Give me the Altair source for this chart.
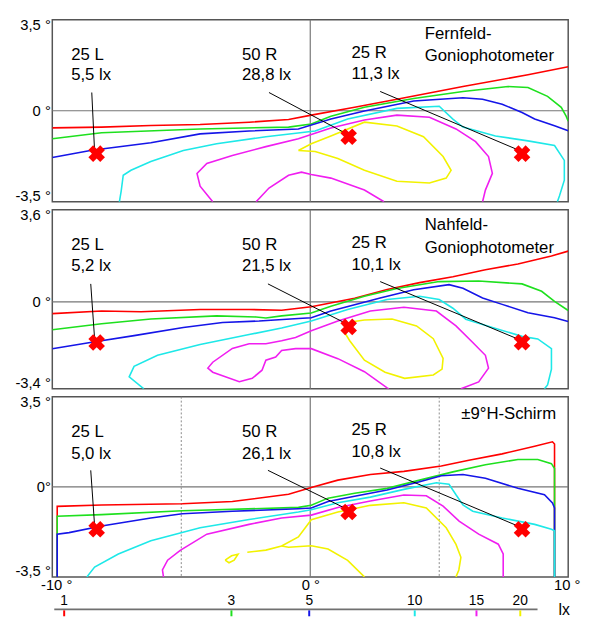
import altair as alt
import pandas as pd

FONT = "Liberation Sans, Arial, Helvetica, sans-serif"

# ---------------- isolux levels (lx) ----------------
levels = [1, 3, 5, 10, 15, 20]
level_colors = ["#ff0000", "#1ee01e", "#1515e8", "#1ee8e8", "#f01ef0", "#f2f200"]

# ---------------- Panel 1: Fernfeld-Goniophotometer (h deg, v deg) ----------------
p1_red = [(-10, -0.66), (-8.09, -0.63), (-6.18, -0.57), (-4.27, -0.53), (-2.37, -0.44), (-0.84, -0.34),
          (0.04, -0.17), (1.72, 0.13), (3.36, 0.44), (5.92, 0.93), (8.44, 1.38), (10, 1.69)]
p1_green = [(-10, -1.08), (-8.09, -0.85), (-4.27, -0.70), (-0.84, -0.63), (0.04, -0.51), (0.80, -0.21),
            (2.10, 0.13), (4.01, 0.47), (5.92, 0.74), (7.67, 0.93), (8.44, 0.89), (9.20, 0.55), (9.73, 0.13),
            (9.92, -0.21), (10, -0.40)]
p1_blue = [(-10, -1.80), (-8.47, -1.52), (-6.18, -1.23), (-4.27, -0.89), (-2.37, -0.78), (-0.46, -0.70),
           (0.80, -0.32), (2.10, -0.01), (4.01, 0.37), (5.92, 0.50), (6.68, 0.44), (7.44, 0.25), (8.21, -0.07),
           (8.70, -0.32), (9.47, -0.58), (10, -0.77)]
p1_cyan = [(-7.40, -3.5), (-7.33, -3.09), (-7.25, -2.48), (-6.95, -2.29), (-6.18, -1.95), (-4.92, -1.53),
           (-3.63, -1.27), (-1.72, -1.00), (0.19, -0.78), (1.45, -0.32), (3.36, 0.09), (5.0, 0.17), (5.53, -0.32),
           (5.92, -0.63), (7.18, -0.97), (8.44, -1.16), (9.47, -1.34), (9.85, -1.91), (9.85, -2.67), (9.66, -3.28),
           (9.58, -3.5)]
p1_mag_a = [(-3.78, -3.5), (-4.27, -2.90), (-4.39, -2.41), (-4.01, -2.03), (-3.02, -1.72), (-1.72, -1.38),
            (-0.46, -1.08), (0.80, -0.66), (2.10, -0.36), (3.36, -0.17), (4.62, -0.25), (5.65, -0.70),
            (6.41, -1.19), (6.91, -1.76), (7.06, -2.41), (6.79, -3.05), (6.68, -3.5)]
p1_mag_b = [(-2.10, -3.5), (-1.60, -2.97), (-0.84, -2.48), (-0.34, -2.36), (0.04, -2.45), (0.80, -2.59),
            (2.10, -3.05), (2.86, -3.5)]
p1_yel = [(-0.46, -1.53), (0.04, -1.27), (0.80, -0.97), (2.10, -0.44), (3.36, -0.59), (4.39, -1.00),
          (5.15, -1.76), (5.46, -2.29), (5.27, -2.59), (4.62, -2.78), (3.36, -2.71), (2.10, -2.29),
          (1.07, -1.84), (0.19, -1.57), (-0.46, -1.53)]
p1_contours = [(1, p1_red), (3, p1_green), (5, p1_blue), (10, p1_cyan), (15, p1_mag_a), (15, p1_mag_b),
               (20, p1_yel)]
p1_points = [(-8.28, -1.65), (1.49, -1.00), (8.21, -1.65)]
p1_leaders = [(-8.47, 0.70, -8.36, -1.57), (-1.60, 0.70, 1.49, -0.93), (2.71, 0.74, 8.21, -1.57)]
p1_texts = [("25 L", -9.27, 2.06, "left"), ("5,5 lx", -9.27, 1.31, "left"),
            ("50 R", -2.65, 2.06, "left"), ("28,8 lx", -2.65, 1.31, "left"),
            ("25 R", 1.60, 2.14, "left"), ("11,3 lx", 1.60, 1.34, "left"),
            ("Fernfeld-", 4.44, 2.86, "left"), ("Goniophotometer", 4.44, 2.03, "left")]

# ---------------- Panel 2: Nahfeld-Goniophotometer ----------------
p2_red = [(-10, -0.46), (-8.09, -0.36), (-6.56, -0.39), (-4.27, -0.30), (-2.37, -0.30), (-1.11, -0.33),
          (0.04, -0.19), (1.72, 0.14), (2.98, 0.48), (4.24, 0.75), (5.53, 0.98), (6.79, 1.25), (8.05, 1.48),
          (9.35, 1.79), (10, 1.98)]
p2_green = [(-10, -1.09), (-8.09, -0.86), (-6.18, -0.67), (-3.63, -0.55), (-2.10, -0.59), (-1.72, -0.63),
            (-1.11, -0.55), (0.04, -0.44), (0.80, -0.17), (2.10, 0.22), (3.36, 0.52), (5.0, 0.79), (6.53, 0.81),
            (8.21, 0.70), (8.97, 0.41), (9.47, 0.02), (10, -0.34)]
p2_blue = [(-10, -1.83), (-8.47, -1.58), (-6.83, -1.32), (-4.92, -1.00), (-3.40, -0.81), (-1.98, -0.75),
           (-0.46, -0.65), (0.04, -0.62), (0.80, -0.36), (2.71, 0.15), (4.01, 0.47), (5.38, 0.67), (5.92, 0.53),
           (6.68, 0.15), (7.44, -0.10), (8.44, -0.43), (9.47, -0.62), (10, -0.77)]
p2_cyan = [(-6.45, -3.4), (-7.02, -2.93), (-6.83, -2.52), (-5.92, -2.09), (-4.27, -1.67), (-2.37, -1.28),
           (-1.11, -1.02), (0.04, -0.75), (1.45, -0.30), (2.98, 0.09), (4.24, 0.22), (5.0, 0.09), (5.53, -0.25),
           (6.03, -0.68), (7.06, -1.0), (8.21, -1.35), (8.82, -1.45), (9.35, -1.83), (9.35, -2.63),
           (9.20, -3.25), (9.08, -3.4)]
p2_mag = [(5.84, -3.4), (6.53, -3.13), (6.91, -2.59), (6.79, -2.09), (6.30, -1.59), (5.65, -0.94),
          (4.89, -0.36), (3.63, -0.21), (2.33, -0.36), (1.07, -0.75), (0.04, -1.13), (-0.57, -1.39),
          (-1.11, -1.52), (-1.72, -1.64), (-2.37, -1.64), (-3.02, -1.82), (-3.78, -2.36), (-3.97, -2.59),
          (-3.78, -2.75), (-2.75, -3.12), (-2.25, -2.99), (-1.87, -2.67), (-1.72, -2.28), (-1.34, -2.16),
          (-1.11, -1.90), (-0.57, -1.83), (0.04, -1.83), (1.07, -2.22), (2.10, -2.73), (2.98, -3.36),
          (3.05, -3.4)]
p2_yel = [(1.34, -1.21), (1.64, -0.78), (2.10, -0.71), (3.17, -0.67), (4.12, -0.94), (4.77, -1.44),
          (5.15, -2.21), (5.11, -2.63), (4.77, -2.86), (3.66, -2.99), (2.90, -2.75), (2.10, -2.28),
          (1.53, -1.52), (1.34, -1.21)]
p2_contours = [(1, p2_red), (3, p2_green), (5, p2_blue), (10, p2_cyan), (15, p2_mag), (20, p2_yel)]
p2_points = [(-8.28, -1.59), (1.49, -0.98), (8.21, -1.58)]
p2_leaders = [(-8.51, 0.70, -8.36, -1.44), (-1.64, 0.70, 1.49, -0.90), (2.71, 0.79, 8.21, -1.52)]
p2_texts = [("25 L", -9.27, 2.14, "left"), ("5,2 lx", -9.27, 1.33, "left"),
            ("50 R", -2.65, 2.14, "left"), ("21,5 lx", -2.65, 1.33, "left"),
            ("25 R", 1.60, 2.22, "left"), ("10,1 lx", 1.60, 1.37, "left"),
            ("Nahfeld-", 4.44, 2.91, "left"), ("Goniophotometer", 4.44, 2.02, "left")]

# ---------------- Panel 3: +-9 deg H-Schirm ----------------
p3_red = [(-9.81, -3.5), (-9.81, -0.76), (-8.09, -0.71), (-4.96, -0.66), (-3.02, -0.57), (-0.84, -0.29),
          (0.04, -0.03), (1.07, 0.26), (2.33, 0.48), (3.63, 0.60), (5.08, 0.81), (6.15, 1.03), (7.44, 1.28),
          (8.70, 1.58), (9.39, 1.75), (9.47, 1.66), (9.47, -3.5)]
p3_green = [(-9.81, -3.5), (-9.81, -1.14), (-8.09, -1.08), (-4.96, -0.93), (-0.46, -0.80), (0.04, -0.72),
            (0.69, -0.44), (1.72, -0.25), (2.98, -0.06), (4.24, 0.26), (5.53, 0.58), (6.79, 0.86),
            (8.05, 1.06), (8.82, 1.06), (9.35, 0.90), (9.47, 0.71), (9.47, -3.5)]
p3_blue = [(-9.81, -3.5), (-9.81, -1.84), (-9.35, -1.78), (-8.09, -1.52), (-6.18, -1.21), (-4.96, -1.05),
           (-3.02, -0.95), (-0.46, -0.85), (0.04, -0.82), (0.69, -0.57), (1.72, -0.37), (2.98, -0.12),
           (4.24, 0.20), (5.08, 0.43), (5.92, 0.48), (6.79, 0.33), (8.05, -0.06), (9.08, -0.31),
           (9.39, -0.63), (9.47, -0.82), (9.47, -3.5)]
p3_cyan = [(-8.66, -3.5), (-8.36, -3.12), (-7.44, -2.61), (-6.18, -2.10), (-4.27, -1.59), (-2.37, -1.27),
           (-0.46, -0.98), (0.04, -0.89), (1.07, -0.62), (2.33, -0.40), (3.63, -0.10), (4.89, 0.16),
           (5.38, 0.10), (5.65, -0.31), (5.92, -0.70), (6.30, -0.95), (7.44, -1.21), (8.70, -1.46),
           (9.35, -1.65), (9.47, -1.71), (9.47, -3.5)]
p3_mag = [(-5.69, -3.5), (-5.73, -3.23), (-5.53, -2.85), (-5.04, -2.47), (-4.01, -1.84), (-2.37, -1.46),
          (-1.11, -1.21), (0.04, -1.10), (1.07, -0.80), (2.33, -0.55), (3.63, -0.32), (4.50, -0.35),
          (5.15, -0.75), (5.77, -1.33), (6.53, -1.84), (7.29, -2.23), (7.48, -2.61), (7.48, -3.5)]
p3_yel_a = [(-2.44, -2.54), (-1.72, -2.46), (-1.11, -2.30), (-0.46, -1.95), (-0.20, -1.60), (0.04, -1.28),
            (1.07, -0.98), (2.33, -0.72), (3.63, -0.62), (4.50, -0.82), (5.27, -1.59), (5.65, -2.24),
            (5.84, -2.74), (5.76, -3.23), (5.65, -3.5)]
p3_yel_b = [(-1.11, -2.30), (-0.84, -2.35), (0.04, -2.29), (0.69, -2.42), (1.45, -2.86), (2.10, -3.5)]
p3_yel_c = [(-3.30, -2.85), (-3.15, -2.95), (-2.95, -2.85), (-2.80, -2.62), (-3.05, -2.68), (-3.30, -2.85)]
p3_contours = [(1, p3_red), (3, p3_green), (5, p3_blue), (10, p3_cyan), (15, p3_mag), (20, p3_yel_a),
               (20, p3_yel_b), (20, p3_yel_c)]
p3_points = [(-8.28, -1.65), (1.49, -0.98), (8.21, -1.65)]
p3_leaders = [(-8.51, 0.64, -8.36, -1.51), (-1.64, 0.64, 1.49, -0.90), (2.71, 0.73, 8.21, -1.59)]
p3_texts = [("25 L", -9.27, 2.05, "left"), ("5,0 lx", -9.27, 1.21, "left"),
            ("50 R", -2.65, 2.05, "left"), ("26,1 lx", -2.65, 1.21, "left"),
            ("25 R", 1.60, 2.12, "left"), ("10,8 lx", 1.60, 1.28, "left"),
            ("\u00b19\u00b0H-Schirm", 9.53, 2.74, "right")]
p3_dotted = [-5, 5]

x_ticks = [-10, 0, 10]
x_labels = ["-10 \u00b0", "0 \u00b0", "10 \u00b0"]

COLOR_OF = dict(zip(levels, level_colors))


def label_expr(vals, labs):
    expr = "''"
    for v, l in zip(vals, labs):
        expr = f"datum.value == {v} ? '{l}' : ({expr})"
    return expr


def panel(contours, points, leaders, texts, ydom, yticks, ylabels, height, show_x, dotted):
    xs = alt.Scale(domain=[-10, 10], nice=False, zero=False)
    ys = alt.Scale(domain=ydom, nice=False, zero=False)
    yaxis = alt.Axis(values=yticks, labelExpr=label_expr(yticks, ylabels), ticks=False, domain=False,
                     grid=False, title=None, labelPadding=2, labelFontSize=15, labelFont=FONT,
                     labelColor="black", labelFlush=True, labelFlushOffset=2)
    if show_x:
        xaxis = alt.Axis(values=x_ticks, labelExpr=label_expr(x_ticks, x_labels), ticks=False, domain=False,
                         grid=False, title=None, labelPadding=1, labelFontSize=15, labelFont=FONT,
                         labelColor="black", labelFlush=True, labelFlushOffset=12)
    else:
        xaxis = None

    def X(f):
        return alt.X(f, type="quantitative", scale=xs, axis=xaxis)

    def Y(f):
        return alt.Y(f, type="quantitative", scale=ys, axis=yaxis)

    layers = []
    layers.append(alt.Chart(pd.DataFrame({"v": [0.0]})).mark_rule(color="#767676", strokeWidth=1.2)
                  .encode(y=Y("v")))
    layers.append(alt.Chart(pd.DataFrame({"h": [0.0]})).mark_rule(color="#767676", strokeWidth=1.2)
                  .encode(x=X("h")))
    if dotted:
        layers.append(alt.Chart(pd.DataFrame({"h": dotted})).mark_rule(color="#8a8a8a", strokeWidth=1,
                                                                      strokeDash=[2, 2])
                      .encode(x=X("h")))
    for lvl in levels:
        rows = []
        for k, (lv, pts) in enumerate(contours):
            if lv != lvl:
                continue
            for j, (h, v) in enumerate(pts):
                rows.append({"seg": k, "ord": j, "h": h, "v": v})
        if not rows:
            continue
        layers.append(alt.Chart(pd.DataFrame(rows)).mark_line(color=COLOR_OF[lvl], strokeWidth=1.6, clip=True)
                      .encode(x=X("h"), y=Y("v"), detail="seg:N", order="ord:Q"))
    ld = pd.DataFrame(leaders, columns=["h", "v", "h2", "v2"])
    layers.append(alt.Chart(ld).mark_rule(color="black", strokeWidth=1)
                  .encode(x=X("h"), y=Y("v"), x2="h2:Q", y2="v2:Q"))
    pdf = pd.DataFrame(points, columns=["h", "v"])
    layers.append(alt.Chart(pdf).mark_point(shape="cross", angle=45, filled=True, size=290, color="#ff0000",
                                            opacity=1)
                  .encode(x=X("h"), y=Y("v")))
    td = pd.DataFrame(texts, columns=["t", "h", "v", "al"])
    for al in ["left", "right"]:
        sub = td[td["al"] == al]
        if len(sub) == 0:
            continue
        layers.append(alt.Chart(sub).mark_text(align=al, baseline="middle", font=FONT, fontSize=17,
                                               color="black", dy=-2)
                      .encode(x=X("h"), y=Y("v"), text="t:N"))
    return alt.layer(*layers).properties(width=524, height=height)


p1 = panel(p1_contours, p1_points, p1_leaders, p1_texts, [-3.5, 3.5], [3.5, 0, -3.5],
           ["3,5 \u00b0", "0 \u00b0", "-3,5 \u00b0"], 185, False, None)
p2 = panel(p2_contours, p2_points, p2_leaders, p2_texts, [-3.4, 3.6], [3.6, 0, -3.4],
           ["3,6 \u00b0", "0 \u00b0", "-3,4 \u00b0"], 182, False, None)
p3 = panel(p3_contours, p3_points, p3_leaders, p3_texts, [-3.5, 3.5], [3.5, 0, -3.5],
           ["3,5 \u00b0", "0\u00b0", "-3,5 \u00b0"], 183, True, p3_dotted)

# ---------------- colour scale (lx, log) ----------------
legend_x = alt.Scale(type="log", domain=[0.925, 27.4], nice=False)
scale_bar = pd.DataFrame({"a": [0.937], "b": [22.4]})
ticks_df = pd.DataFrame({"lvl": levels, "col": level_colors, "lab": [str(l) for l in levels]})
unit_df = pd.DataFrame({"u": [26.7], "t": ["lx"]})

bar = alt.Chart(scale_bar).mark_rule(color="#707070", strokeWidth=2).encode(
    x=alt.X("a:Q", scale=legend_x, axis=None), x2="b:Q", y=alt.value(25))
tks = alt.Chart(ticks_df).mark_rule(strokeWidth=2).encode(
    x=alt.X("lvl:Q", scale=legend_x, axis=None), y=alt.value(26), y2=alt.value(32),
    color=alt.Color("col:N", scale=None))
tlabels = alt.Chart(ticks_df).mark_text(font=FONT, fontSize=14, color="black", baseline="middle").encode(
    x=alt.X("lvl:Q", scale=legend_x, axis=None), y=alt.value(17), text="lab:N")
unit = alt.Chart(unit_df).mark_text(font=FONT, fontSize=16, color="black", baseline="alphabetic").encode(
    x=alt.X("u:Q", scale=legend_x, axis=None), y=alt.value(31), text="t:N")
legend = alt.layer(bar, tks, tlabels, unit).properties(width=524, height=32,
                                                       view=alt.ViewBackground(strokeWidth=0))

chart = alt.vconcat(p1, p2, p3, legend, spacing=8, bounds="flush").resolve_scale(
    x="independent", y="independent").properties(
    padding={"left": 6, "top": 4, "right": 0, "bottom": 0}
).configure(font=FONT).configure_view(stroke="#555555", strokeWidth=1.5)

chart.save("out.html", embed_options={"renderer": "svg", "actions": False})
